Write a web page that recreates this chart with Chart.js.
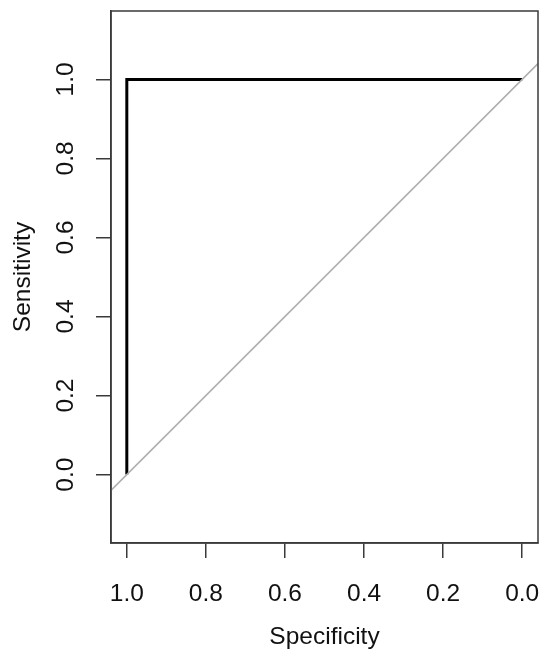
<!DOCTYPE html>
<html>
<head>
<meta charset="utf-8">
<script src="https://cdn.jsdelivr.net/npm/chart.js@4.4.1/dist/chart.umd.min.js"></script>
<style>
  html, body { margin: 0; padding: 0; background: #fff; }
  #wrap { width: 550px; height: 659px; }
</style>
</head>
<body>
<div id="wrap"><canvas id="c" width="550" height="659"></canvas></div>
<script>
// ROC curve points (specificity, sensitivity)
const rocSpecificity = [1.0, 1.0, 0.0];
const rocSensitivity = [0.0, 1.0, 1.0];
// chance diagonal (spans the plotting region)
const diagSpecificity = [1.04, -0.04];
const diagSensitivity = [-0.04, 1.04];
// tick labels
const xTicks = [1.0, 0.8, 0.6, 0.4, 0.2, 0.0];
const yTicks = [0.0, 0.2, 0.4, 0.6, 0.8, 1.0];
const xLimits = [-0.04, 1.04];
const yLimits = [-0.173, 1.173];

const toPts = (xs, ys) => xs.map((x, i) => ({ x: x, y: ys[i] }));

const boxPlugin = {
  id: 'box',
  afterDraw(chart) {
    const { ctx, chartArea: a } = chart;
    ctx.save();
    ctx.strokeStyle = '#3a3a3a';
    ctx.lineWidth = 1.5;
    ctx.strokeRect(a.left, a.top, a.right - a.left, a.bottom - a.top);
    ctx.restore();
  }
};

const noPad = s => { s.paddingTop = 0; s.paddingBottom = 0; s.paddingLeft = 0; s.paddingRight = 0; };

const font = { family: '"Liberation Sans", Arial, sans-serif', size: 24.5 };

new Chart(document.getElementById('c'), {
  type: 'scatter',
  data: {
    datasets: [
      {
        data: toPts(diagSpecificity, diagSensitivity),
        showLine: true,
        borderColor: '#adadad',
        borderWidth: 1.5,
        pointRadius: 0,
        fill: false
      },
      {
        data: toPts(rocSpecificity, rocSensitivity),
        showLine: true,
        borderColor: '#000000',
        borderWidth: 3,
        pointRadius: 0,
        fill: false,
        borderCapStyle: 'butt',
        borderJoinStyle: 'miter'
      }
    ]
  },
  options: {
    responsive: false,
    animation: false,
    devicePixelRatio: 1,
    layout: { padding: { top: 11, right: 12, left: 0, bottom: 0 } },
    plugins: { legend: { display: false }, tooltip: { enabled: false } },
    scales: {
      x: {
        type: 'linear',
        reverse: true,
        min: xLimits[0],
        max: xLimits[1],
        afterBuildTicks: s => { s.ticks = xTicks.map(v => ({ value: v })); },
        afterFit: s => { s.height = 116; noPad(s); },
        grid: { drawOnChartArea: false, drawTicks: true, tickLength: 15, color: '#3a3a3a', lineWidth: 1.5 },
        border: { display: true, color: '#3a3a3a', width: 1.5 },
        ticks: {
          color: '#111',
          font: font,
          padding: 22,
          maxRotation: 0,
          minRotation: 0,
          callback: v => Number(v).toFixed(1)
        },
        title: {
          display: true,
          text: 'Specificity',
          color: '#111',
          font: font,
          padding: { top: 0, bottom: 7 }
        }
      },
      y: {
        type: 'linear',
        min: yLimits[0],
        max: yLimits[1],
        afterBuildTicks: s => { s.ticks = yTicks.map(v => ({ value: v })); },
        afterFit: s => { s.width = 111; noPad(s); },
        grid: { drawOnChartArea: false, drawTicks: true, tickLength: 15, color: '#3a3a3a', lineWidth: 1.5 },
        border: { display: true, color: '#3a3a3a', width: 1.5 },
        ticks: {
          color: '#111',
          font: font,
          padding: 13,
          crossAlign: 'center',
          minRotation: 90,
          maxRotation: 90,
          callback: v => Number(v).toFixed(1)
        },
        title: {
          display: true,
          text: 'Sensitivity',
          color: '#111',
          font: font,
          padding: { top: 8.5, bottom: 0 }
        }
      }
    }
  },
  plugins: [boxPlugin]
});
</script>
</body>
</html>
